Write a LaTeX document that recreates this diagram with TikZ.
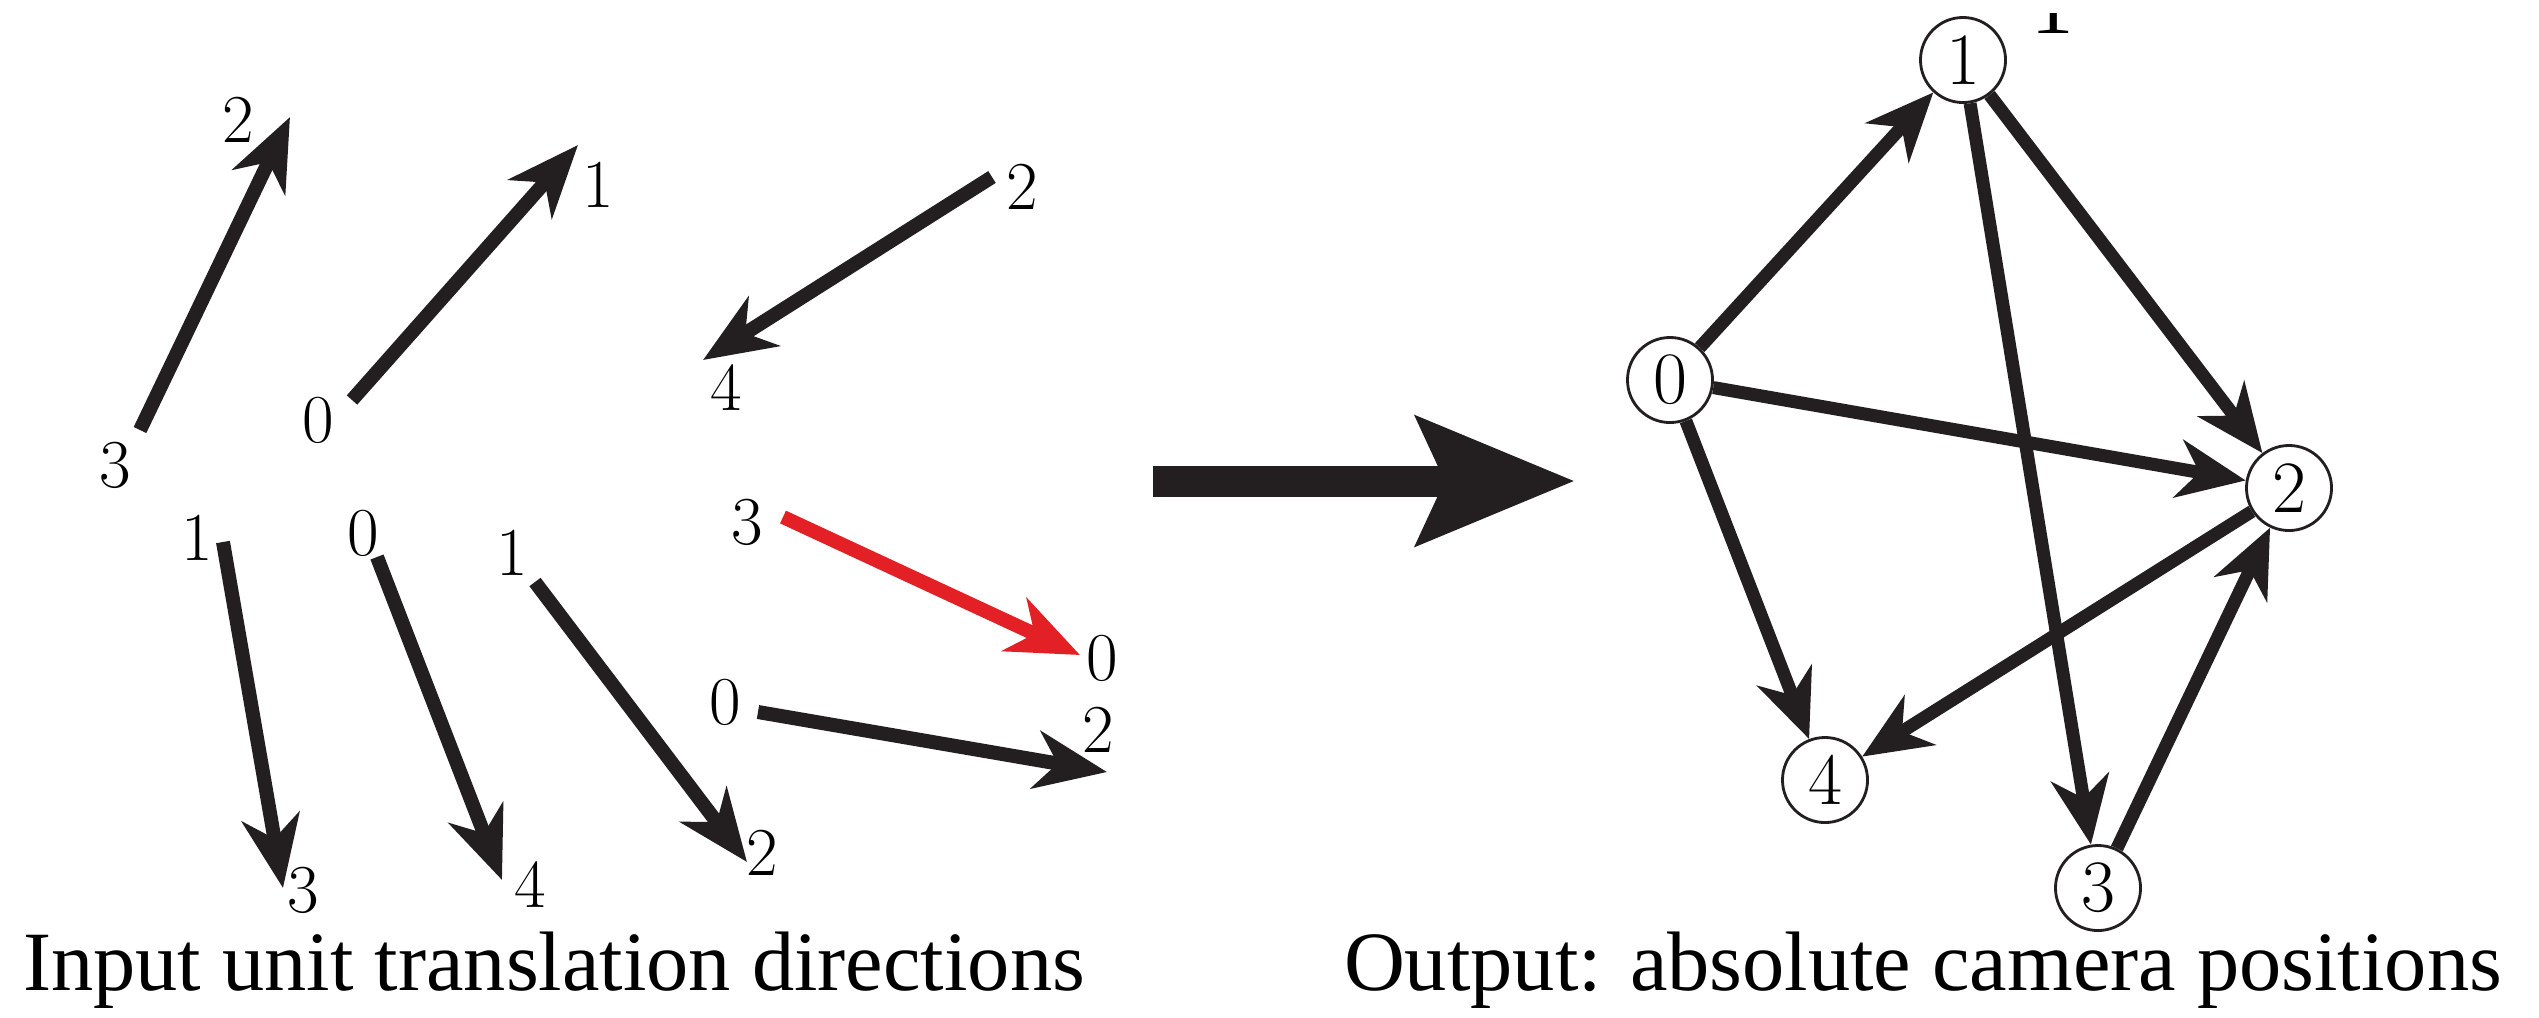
\documentclass[tikz,border=0pt]{standalone}
\usepackage{fontspec}
\newfontfamily\capfont{Liberation Serif}
\usetikzlibrary{arrows.meta}
\definecolor{ink}{RGB}{35,31,32}
\definecolor{redarrow}{RGB}{226,32,38}
\tikzset{
  dirarrow/.style={draw=ink, line width=0.14cm, -{Stealth[length=0.72cm,width=0.58cm,inset=0.22cm]}},
  redarr/.style={dirarrow, draw=redarrow, fill=redarrow},
  lbl/.style={font=\fontsize{19.5}{20}\selectfont, inner sep=0pt, text=black},
  cam/.style={circle, draw=ink, line width=0.8pt, minimum size=0.85cm, inner sep=0pt, font=\fontsize{21}{22}\selectfont},
  camedge/.style={draw=ink, line width=0.13cm, -{Stealth[length=0.68cm,width=0.58cm,inset=0.21cm]}},
  bigarrow/.style={draw=ink, fill=ink, line width=0.31cm, -{Stealth[length=1.57cm,width=1.26cm,inset=0.27cm]}},
  captxt/.style={font=\capfont\fontsize{24}{28}\selectfont, inner sep=0pt, anchor=base}
}
\begin{document}
\begin{tikzpicture}[x=0.01cm,y=-0.01cm]
\useasboundingbox (0,0) rectangle (2539,1017);

% ---- left: input directions ----
\node[lbl] (a2) at (238,120) {2};
\node[lbl] (a3) at (115,465) {3};
\coordinate (as) at (140,430);
\coordinate (at) at (290,117);
\draw[dirarrow] (as) -- (at);

\node[lbl] (b0) at (318,420) {0};
\node[lbl] (b1) at (598,185) {1};
\coordinate (bs) at (352,400);
\coordinate (bt) at (578,145);
\draw[dirarrow] (bs) -- (bt);

\node[lbl] (c2) at (1022,187) {2};
\node[lbl] (c4) at (726,388) {4};
\coordinate (cs) at (992,177);
\coordinate (ct) at (703,360);
\draw[dirarrow] (cs) -- (ct);

\node[lbl] (d3) at (747,522) {3};
\node[lbl] (d0) at (1102,658) {0};
\coordinate (ds) at (783,517);
\coordinate (dt) at (1080,655);
\draw[redarr] (ds) -- (dt);

\node[lbl] (e0) at (725,702) {0};
\node[lbl] (e2) at (1098,730) {2};
\coordinate (es) at (758,712);
\coordinate (et) at (1107,772);
\draw[dirarrow] (es) -- (et);

\node[lbl] (f1) at (197,538) {1};
\node[lbl] (f3) at (303,890) {3};
\coordinate (fs) at (223,542);
\coordinate (ft) at (283,888);
\draw[dirarrow] (fs) -- (ft);

\node[lbl] (g0) at (363,533) {0};
\node[lbl] (g4) at (530,885) {4};
\coordinate (gs) at (377,557);
\coordinate (gt) at (502,880);
\draw[dirarrow] (gs) -- (gt);

\node[lbl] (h1) at (512,553) {1};
\node[lbl] (h2) at (762,853) {2};
\coordinate (hs) at (535,582);
\coordinate (ht) at (747,862);
\draw[dirarrow] (hs) -- (ht);

\node[captxt] (incap) at (554,990) {Input unit translation directions};

% ---- middle arrow ----
\coordinate (mid1) at (1153,481);
\coordinate (mid2) at (1575,481);
\draw[bigarrow] (mid1) -- (mid2);

% ---- right: camera positions ----
\node[cam] (n0) at (1670,380) {0};
\node[cam] (n1) at (1963,60) {1};
\node[cam] (n2) at (2289,488) {2};
\node[cam] (n3) at (2098,888) {3};
\node[cam] (n4) at (1825,780) {4};

\draw[camedge] (n0) -- (n1);
\draw[camedge] (n0) -- (n2);
\draw[camedge] (n0) -- (n4);
\draw[camedge] (n1) -- (n2);
\draw[camedge] (n1) -- (n3);
\draw[camedge] (n2) -- (n4);
\draw[camedge] (n3) -- (n2);

\node[captxt] (outcap) at (1923,990) {Output: absolute camera positions};

% cropped glyph remnant at the top
\begin{scope}
\clip (2030,13) rectangle (2080,40);
\node[captxt] (crop1) at (2053,33) {1};
\end{scope}
\end{tikzpicture}
\end{document}
